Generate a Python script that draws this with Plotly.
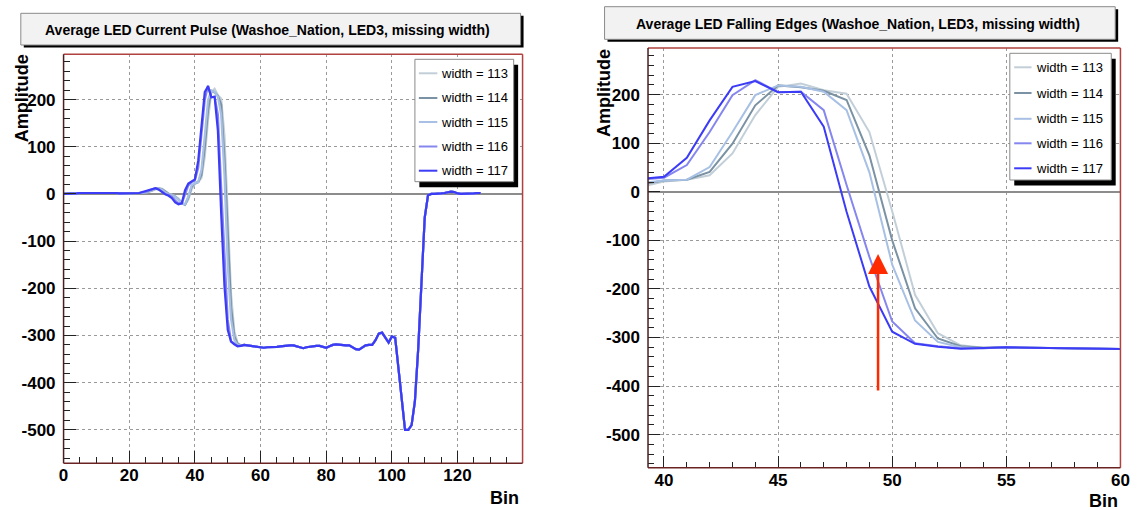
import plotly.graph_objects as go

W, H = 1141, 510

# ---------------- data ----------------
bins = list(range(128))
widths = ["113", "114", "115", "116", "117"]
colors = ["#c2cfd8", "#7a92a3", "#a7c0e4", "#8686ef", "#3c3cf6"]

head = [0, 0, 1, 1, 1, 2, 2, 2, 3, 3, 3, 3, 3, 3, 3, 2, 2, 1, 1, 1, 1, 1, 1, 2]   # bins 0-23

# bins 24-55 (the part where the widths differ)
edge_113 = [2, 3, 4, 7, 10, 12, 11, 6, 1, -2, -5, -10, -18, -23, -12, 10,
            21, 25, 34, 79, 158, 216, 223, 209, 202, 123, -40, -212, -291, -316, -321, -320]
edge_114 = [2, 3, 5, 8, 11, 12, 10, 4, 0, -3, -6, -12, -20, -23, -8, 15,
            23, 25, 41, 99, 178, 219, 215, 208, 189, 75, -100, -240, -302, -318, -321, -320]
edge_115 = [2, 3, 5, 8, 11, 12, 9, 3, 0, -3, -6, -12, -20, -22, -5, 18,
            23, 25, 51, 123, 199, 219, 216, 206, 168, 40, -150, -265, -309, -320, -322, -320]
edge_116 = [3, 4, 7, 10, 12, 10, 4, 0, -2, -6, -14, -20, -20, 0, 18, 25,
            29, 55, 123, 199, 230, 205, 206, 168, 14, -134, -267, -312, -318, -322, -322, -320]
edge_117 = [4, 6, 9, 11, 12, 9, 3, -1, -4, -9, -18, -22, -20, 8, 22, 27,
            31, 70, 147, 216, 228, 205, 206, 134, -41, -195, -288, -313, -319, -323, -322, -320]

tail = [-321, -322, -323, -325, -326, -326, -325, -325, -324, -324, -323, -322,   # bins 56-67
        -321, -321, -321, -323, -326, -327, -325, -324, -322, -322, -322, -324,   # 68-79
        -326, -323, -320, -319, -320, -321, -321, -321, -325, -329, -330, -326,   # 80-91
        -321, -320, -320, -310, -296, -294, -305, -315, -302, -305, -370, -440,   # 92-103
        -500, -500, -490, -440, -330, -190, -50, -3, 0, 0, 0, 1,                  # 104-115
        2, 4, 5, 4, 1, 0, 0, 0, 1, 1, 2, 2]                                       # 116-127

edges = [edge_113, edge_114, edge_115, edge_116, edge_117]

# tick labels
y_tickvals = [-500, -400, -300, -200, -100, 0, 100, 200]
y_ticktext = ["-500", "-400", "-300", "-200", "-100", "0", "100", "200"]
xl_tickvals = [0, 20, 40, 60, 80, 100, 120]
xl_ticktext = ["0", "20", "40", "60", "80", "100", "120"]
xr_tickvals = [40, 45, 50, 55, 60]
xr_ticktext = ["40", "45", "50", "55", "60"]

# arrow marking the missing width (right panel)
arrow_bin = 49.38
arrow_tip = -128
arrow_tail = -412

left_title = "Average LED Current Pulse (Washoe_Nation, LED3, missing width)"
right_title = "Average LED Falling Edges (Washoe_Nation, LED3, missing width)"

# ---------------- figure ----------------
def px(x):
    return x / W

def py(y):
    return 1 - y / H

fig = go.Figure()
for w, c, e in zip(widths, colors, edges):
    vals = head + e + tail
    fig.add_trace(go.Scatter(x=bins, y=vals, mode="lines", line=dict(color=c, width=2.2),
                             xaxis="x", yaxis="y", showlegend=False, name="width = " + w))
    fig.add_trace(go.Scatter(x=bins, y=vals, mode="lines", line=dict(color=c, width=2),
                             xaxis="x2", yaxis="y2", showlegend=False, name="width = " + w))

FONT = "Liberation Sans, Arial, Helvetica, sans-serif"
tickfont = dict(family=FONT, size=17, color="black", weight="bold")

def xaxis(domain, anchor, rng, tv, tt, minor):
    return dict(domain=domain, anchor=anchor, range=rng, tickmode="array",
                tickvals=tv, ticktext=tt,
                ticks="inside", ticklen=12, tickwidth=1, tickcolor="#222",
                minor=dict(tick0=0, dtick=minor, ticks="inside", ticklen=6,
                           tickcolor="#222", showgrid=False),
                showgrid=True, gridcolor="#9a9a9a", griddash="dot", gridwidth=1,
                zeroline=False, showline=False, tickfont=tickfont)

def yaxis(domain, anchor, rng):
    return dict(domain=domain, anchor=anchor, range=rng, tickmode="array",
                tickvals=y_tickvals, ticktext=y_ticktext, ticklabelstandoff=7,
                ticks="inside", ticklen=12, tickwidth=1, tickcolor="#222",
                minor=dict(tick0=0, dtick=20, ticks="inside", ticklen=6,
                           tickcolor="#222", showgrid=False),
                showgrid=True, gridcolor="#9a9a9a", griddash="dot", gridwidth=1,
                zeroline=True, zerolinecolor="#8c8c8c", zerolinewidth=2,
                showline=False, tickfont=tickfont)

L = dict(l=59.3, r=524.0, t=54.3, b=463.3)
R = dict(l=651.0, r=1129.3, t=48.0, b=467.7)

fig.update_layout(
    width=W, height=H, autosize=False,
    margin=dict(l=0, r=0, t=0, b=0),
    paper_bgcolor="white", plot_bgcolor="white",
    xaxis=xaxis([px(L["l"]), px(L["r"])], "y", [0, 139.8], xl_tickvals, xl_ticktext, 5),
    yaxis=yaxis([py(L["b"]), py(L["t"])], "x", [-571, 296]),
    xaxis2=xaxis([px(R["l"]), px(R["r"])], "y2", [39.3, 60.0001], xr_tickvals, xr_ticktext, 1),
    yaxis2=yaxis([py(R["b"]), py(R["t"])], "x2", [-568, 296]),
    showlegend=False,
)

shapes = []
annotations = []

# frames: top/right reddish, left/bottom dark
for xd, yd in (("x domain", "y domain"), ("x2 domain", "y2 domain")):
    shapes.append(dict(type="line", xref=xd, yref=yd, x0=0, x1=1, y0=1, y1=1,
                       line=dict(color="#b0413e", width=1.5), layer="above"))
    shapes.append(dict(type="line", xref=xd, yref=yd, x0=1, x1=1, y0=0, y1=1,
                       line=dict(color="#b0413e", width=1.5), layer="above"))
    shapes.append(dict(type="line", xref=xd, yref=yd, x0=0, x1=0, y0=0, y1=1,
                       line=dict(color="#4a1e1e", width=1.5), layer="above"))
    shapes.append(dict(type="line", xref=xd, yref=yd, x0=0, x1=1, y0=0, y1=0,
                       line=dict(color="#6a2222", width=1.5), layer="above"))

def box(x0, y0, x1, y1, sdx, sdy, fill):
    shapes.append(dict(type="rect", xref="paper", yref="paper",
                       x0=px(x0 + sdx), x1=px(x1 + sdx), y0=py(y1 + sdy), y1=py(y0 + sdy),
                       fillcolor="black", line=dict(width=0), layer="above"))
    shapes.append(dict(type="rect", xref="paper", yref="paper",
                       x0=px(x0), x1=px(x1), y0=py(y1), y1=py(y0),
                       fillcolor=fill, line=dict(color="#8a8a8a", width=1), layer="above"))

# title boxes
box(16, 13.3, 522, 45, 3, 2.5, "#f2f2f2")
box(607, 6.7, 1124, 39.3, 3, 2.5, "#f2f2f2")
annotations.append(dict(text=left_title, xref="paper", yref="paper", x=px(266), y=py(29.5),
                        showarrow=False, xanchor="center", yanchor="middle",
                        font=dict(family=FONT, size=14, color="black", weight="bold")))
annotations.append(dict(text=right_title, xref="paper", yref="paper", x=px(864), y=py(23.5),
                        showarrow=False, xanchor="center", yanchor="middle",
                        font=dict(family=FONT, size=14, color="black", weight="bold")))

# legends
def legend(bx0, by0, bx1, by1, lx0, lx1, tx, rows):
    box(bx0, by0, bx1, by1, 4.5, 5.5, "white")
    for w, c, ry in zip(widths, colors, rows):
        shapes.append(dict(type="line", xref="paper", yref="paper",
                           x0=px(lx0), x1=px(lx1), y0=py(ry), y1=py(ry),
                           line=dict(color=c, width=2), layer="above"))
        annotations.append(dict(text="width = " + w, xref="paper", yref="paper",
                                x=px(tx), y=py(ry), showarrow=False,
                                xanchor="left", yanchor="middle",
                                font=dict(family=FONT, size=13, color="black")))

legend(415, 59.3, 515, 181.7, 419, 437.7, 439, [73.3, 98.0, 122.0, 146.5, 170.7])
legend(1017.3, 53.3, 1120, 180, 1021.7, 1039.3, 1041.5, [67.3, 93.0, 118.8, 143.3, 168.3])

# axis titles
title_font = dict(family=FONT, size=18, color="black", weight="bold")
annotations.append(dict(text="Amplitude", xref="paper", yref="paper", x=px(17.5), y=py(98),
                        textangle=-90, showarrow=False, xanchor="center", yanchor="middle",
                        font=title_font))
annotations.append(dict(text="Amplitude", xref="paper", yref="paper", x=px(606.5), y=py(93),
                        textangle=-90, showarrow=False, xanchor="center", yanchor="middle",
                        font=title_font))
annotations.append(dict(text="Bin", xref="paper", yref="paper", x=px(522), y=py(498),
                        showarrow=False, xanchor="right", yanchor="middle", font=title_font))
annotations.append(dict(text="Bin", xref="paper", yref="paper", x=px(1129), y=py(501),
                        showarrow=False, xanchor="right", yanchor="middle", font=title_font))

# red arrow
annotations.append(dict(text="", x=arrow_bin, y=arrow_tip, ax=arrow_bin, ay=arrow_tail,
                        xref="x2", yref="y2", axref="x2", ayref="y2",
                        showarrow=True, arrowhead=2, arrowsize=1.6, arrowwidth=2.5,
                        arrowcolor="#ff2a00"))

fig.update_layout(shapes=shapes, annotations=annotations)
fig.write_html(
    "out.html",
    config={"displayModeBar": False},
    post_script="document.body.style.margin='0';document.body.style.padding='0';"
                "document.body.style.overflow='hidden';",
)
